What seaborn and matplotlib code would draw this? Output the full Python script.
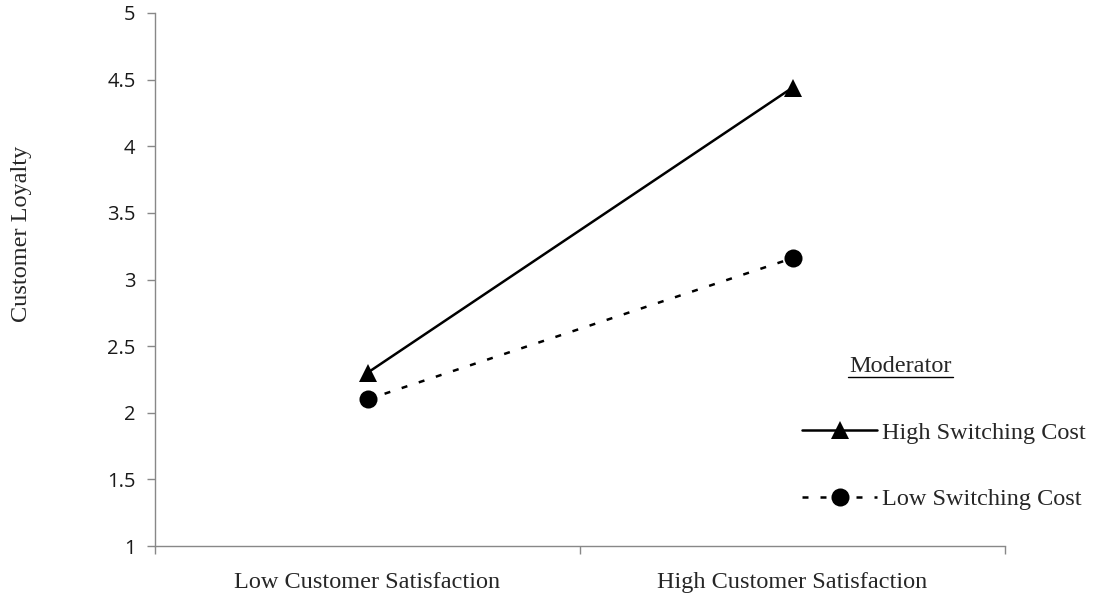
import matplotlib
matplotlib.use("Agg")
import matplotlib.pyplot as plt
from matplotlib.lines import Line2D
from matplotlib.ticker import FixedLocator, NullFormatter
import pandas as pd
import seaborn as sns

# Simple-slopes data for the moderation effect
satisfaction = ["Low Customer Satisfaction", "High Customer Satisfaction"]
high_switching = [2.30, 4.44]
low_switching = [2.10, 3.16]
groups = ["High Switching Cost", "Low Switching Cost"]
y_ticks = [1, 1.5, 2, 2.5, 3, 3.5, 4, 4.5, 5]
y_tick_labels = ["1", "1.5", "2", "2.5", "3", "3.5", "4", "4.5", "5"]

df = pd.DataFrame({
    "Satisfaction": satisfaction * 2,
    "Loyalty": high_switching + low_switching,
    "Moderator": [groups[0]] * 2 + [groups[1]] * 2,
})
df["x"] = [satisfaction.index(s) for s in df["Satisfaction"]]

sns.set_style("white")
serif = ["Liberation Serif", "DejaVu Serif"]
sans = ["Open Sans", "DejaVu Sans"]
TEXT_SIZE = 17.5
DASH = (2.4, 4.8)
LW = 1.8
MS = 13

fig = plt.figure(figsize=(10.93, 6.02), dpi=100)
ax = fig.add_axes([155 / 1093, 56 / 602, 850 / 1093, 533 / 602])

sns.lineplot(
    data=df, x="x", y="Loyalty", hue="Moderator", style="Moderator",
    palette=["black", "black"], markers={groups[0]: "^", groups[1]: "o"},
    dashes={groups[0]: "", groups[1]: DASH},
    markersize=MS, linewidth=LW, markeredgewidth=0, ax=ax, legend=False,
)

ax.set_xlim(-0.5, 1.5)
ax.set_ylim(1, 5)
ax.set_yticks(y_ticks)
ax.set_yticklabels(y_tick_labels, fontfamily=sans, fontsize=14.5, color="#1a1a1a")

# category boundaries carry the ticks; names sit between them
ax.xaxis.set_major_locator(FixedLocator([-0.5, 0.5, 1.5]))
ax.xaxis.set_major_formatter(NullFormatter())
ax.set_xticks([0, 1], minor=True)
ax.set_xticklabels(satisfaction, minor=True, fontfamily=serif, fontsize=TEXT_SIZE)
ax.tick_params(axis="x", which="minor", length=0, pad=19)
ax.tick_params(axis="x", which="major", length=6, width=1, color="#888888", direction="out")
ax.tick_params(axis="y", length=6, width=1, color="#888888", direction="out", pad=8)
ax.xaxis.set_ticks_position("bottom")
ax.yaxis.set_ticks_position("left")

for side in ["top", "right"]:
    ax.spines[side].set_visible(False)
for side in ["left", "bottom"]:
    ax.spines[side].set_color("#888888")
    ax.spines[side].set_linewidth(1)

ax.set_xlabel("")
ax.set_ylabel("")
fig.text(22 / 1093, 1 - 234 / 602, "Customer Loyalty", rotation=90, ha="center",
         va="center", fontfamily=serif, fontsize=TEXT_SIZE)

# legend drawn outside the plotting area
handles = [
    Line2D([], [], color="black", linewidth=LW, marker="^", markersize=MS,
           markeredgewidth=0),
    Line2D([], [], color="black", linewidth=LW, linestyle=(0, DASH),
           marker="o", markersize=MS, markeredgewidth=0),
]
leg = fig.legend(
    handles, groups, loc="center left",
    bbox_to_anchor=(802 / 1093, 1 - 466 / 602), frameon=False,
    prop={"family": serif, "size": TEXT_SIZE}, handlelength=3.1, handletextpad=0.2,
    labelspacing=1.82, borderpad=0, borderaxespad=0,
)

fig.text(900 / 1093, 1 - 366 / 602, "Moderator", ha="center", va="center",
         fontfamily=serif, fontsize=TEXT_SIZE)
fig.add_artist(Line2D([848 / 1093, 953 / 1093], [1 - 377 / 602, 1 - 377 / 602],
                      color="black", linewidth=1, transform=fig.transFigure))

fig.savefig("out.png", dpi=100)
